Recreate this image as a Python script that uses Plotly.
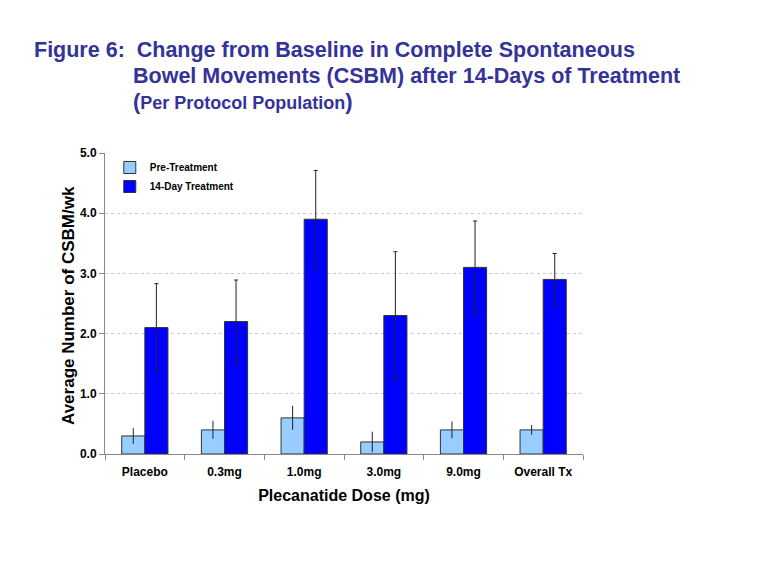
import plotly.graph_objects as go

categories = ["Placebo", "0.3mg", "1.0mg", "3.0mg", "9.0mg", "Overall Tx"]
pre_values = [0.3, 0.4, 0.6, 0.2, 0.4, 0.4]
pre_err = [0.13, 0.15, 0.2, 0.17, 0.14, 0.08]
tx_values = [2.1, 2.2, 3.9, 2.3, 3.1, 2.9]
tx_err = [0.73, 0.69, 0.81, 1.06, 0.77, 0.43]
y_ticks = [0.0, 1.0, 2.0, 3.0, 4.0, 5.0]
y_tick_labels = ["0.0", "1.0", "2.0", "3.0", "4.0", "5.0"]

FONT = "Liberation Sans, Arial, sans-serif"

# page body has an 8px margin; compensate so the plot lands where the reference has it
OFF = 8
L, R, T, B = 105 - OFF, 197 + OFF, 153 - OFF, 131 + OFF
PW = 780 - L - R
PH = 585 - T - B

fig = go.Figure()
fig.add_trace(go.Bar(
    name="<b>Pre-Treatment</b>", x=categories, y=pre_values,
    marker=dict(color="#99CCFF", line=dict(color="#333333", width=1)),
    error_y=dict(type="data", array=pre_err, color="#222222", thickness=1, width=0),
))
fig.add_trace(go.Bar(
    name="<b>14-Day Treatment</b>", x=categories, y=tx_values,
    marker=dict(color="#0000FF", line=dict(color="#333333", width=1)),
    error_y=dict(type="data", array=tx_err, color="#222222", thickness=1, width=2),
))

fig.update_layout(
    width=780, height=585,
    paper_bgcolor="white", plot_bgcolor="white",
    margin=dict(l=L, r=R, t=T, b=B),
    barmode="group", bargap=0.42, bargroupgap=0,
    font=dict(family=FONT, color="black"),
    showlegend=True,
    legend=dict(x=0.01, y=1.0, xanchor="left", yanchor="top",
                font=dict(size=10, family=FONT), bgcolor="rgba(0,0,0,0)",
                itemwidth=30, tracegroupgap=0),
    xaxis=dict(
        tickmode="array", tickvals=categories,
        ticktext=["<b>%s</b>" % c for c in categories],
        tickfont=dict(size=12, family=FONT),
        showline=True, linecolor="#888888", linewidth=1,
        ticks="outside", tickson="boundaries", ticklen=5, tickcolor="#888888",
        ticklabelstandoff=7,
        title=dict(text="<b>Plecanatide Dose (mg)</b>", font=dict(size=16, family=FONT), standoff=11),
    ),
    yaxis=dict(
        range=[0, 5.0], tickmode="array", tickvals=y_ticks,
        ticktext=["<b>%s</b>" % t for t in y_tick_labels],
        tickfont=dict(size=12, family=FONT),
        showline=True, linecolor="#888888", linewidth=1,
        ticks="outside", ticklen=5, tickcolor="#888888",
        showgrid=True, gridcolor="#C8C8C8", griddash="dot", gridwidth=1,
        zeroline=False,
    ),
)

title_color = "#333399"
def px_x(x):
    return (x - 105) / PW

def px_y(y):
    return 1.0 + (153 - y) / PH

# y-axis title
fig.add_annotation(xref="paper", yref="paper", x=px_x(68), y=px_y(306),
                   xanchor="center", yanchor="middle", showarrow=False, textangle=-90,
                   text="<b>Average Number of CSBM/wk</b>",
                   font=dict(size=17, family=FONT, color="black"))

fig.add_annotation(xref="paper", yref="paper", x=px_x(32), y=px_y(50),
                   xanchor="left", yanchor="middle", showarrow=False, align="left",
                   text="<b>Figure 6:  Change from Baseline in Complete Spontaneous</b>",
                   font=dict(size=21.5, family=FONT, color=title_color))
fig.add_annotation(xref="paper", yref="paper", x=px_x(131), y=px_y(76),
                   xanchor="left", yanchor="middle", showarrow=False, align="left",
                   text="<b>Bowel Movements (CSBM) after 14-Days of Treatment</b>",
                   font=dict(size=21.5, family=FONT, color=title_color))
fig.add_annotation(xref="paper", yref="paper", x=px_x(131), y=px_y(101),
                   xanchor="left", yanchor="middle", showarrow=False, align="left",
                   text="<b><span style='font-size:22px'>(</span>Per Protocol Population<span style='font-size:22px'>)</span></b>",
                   font=dict(size=18, family=FONT, color=title_color))

fig.write_html("out.html")
